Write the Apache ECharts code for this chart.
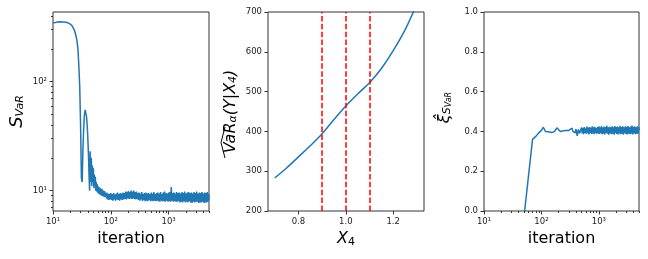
<!DOCTYPE html>
<html><head><meta charset="utf-8">
<script src="https://cdn.jsdelivr.net/npm/echarts@6/dist/echarts.min.js"></script>
<style>html,body{margin:0;padding:0;background:#fff}#c{width:648px;height:259px}</style>
</head><body><div id="c"></div>
<script>
// ---------- data ----------
const iterHead = [10,11,12,13,14,15,16,17,18,19,20,21,22,23,24,25,26,27,28,29,30,31,32,33,34,35,36,37,38,39,40,41,42,43,44,45,46,47,48,49,50,51,52,53,54,55,56,57,58,59,60,61,62,63,64,65,66,67,68,69,70,72,74,76,78,80,82,84];
const svarHead = [346,348,352,354,354,353,352,350,346,342,338,330,318,303,285,262,236,200,140,90,40,13,12,25,38,50,55,54,48,40,31,22,14,10,23,12,20,11,17,12,16,10.5,14,11,13.4,10,12,9.8,11.5,9.6,11,9.4,10.8,9.3,10.6,9.2,10.5,9.1,10.2,9.0,10.4,8.9,10.0,8.8,9.9,8.7,9.6,8.6];
const iterBand = [85,87,90,92,95,97,100,
  103,106,109,112,115,118,121,124,127,131,134,138,142,146,150,
  154,158,162,167,171,176,181,186,191,196,201,207,212,218,224,230,236,243,249,256,263,270,278,285,293,
  301,309,317,326,335,344,353,363,373,383,393,404,415,426,437,449,461,474,487,500,513,527,542,556,571,587,
  603,619,636,653,671,689,707,726,746,766,787,808,830,852,875,899,923,948,974,1000,
  1027,1055,1083,1112,1142,1173,1205,1237,1271,1305,1340,1376,1413,1452,1491,1531,1572,1615,
  1658,1703,1749,1796,1845,1894,1946,1998,2052,2108,2164,2223,2283,2344,2408,2473,2539,2608,2678,2750,2825,2901,2979,3060,3142,3227,3314,3404,3495,3590,3687,3786,3888,3993,4101,4212,4325,4442,4562,4685,4811,4941,5000];
const svarBand = [9.6,8.3,9.4,8.2,9.3,8.3,9.5,
  8.2,9.3,8.1,9.5,8.3,9.2,8.1,9.4,8.3,9.6,8.2,9.3,8.1,9.5,8.3,
  9.4,8.2,9.6,8.3,9.5,8.4,9.8,8.3,9.7,8.5,9.9,8.4,9.7,8.5,10.0,8.4,9.8,8.5,10.0,8.4,9.7,8.3,9.8,8.4,9.5,
  8.2,9.6,8.1,9.4,8.3,9.7,8.0,9.3,8.2,9.5,8.0,9.6,8.1,9.4,8.0,9.5,8.2,9.3,8.0,9.6,8.1,9.4,8.0,9.7,8.1,9.3,
  8.0,9.5,8.1,9.6,8.0,9.4,7.9,9.7,8.1,9.3,8.0,9.6,8.0,9.8,7.9,9.5,8.1,9.4,7.9,9.6,
  8.0,9.7,7.9,10.8,8.1,9.5,7.9,9.6,8.0,9.4,7.9,9.7,7.9,9.5,8.0,9.6,7.8,9.4,
  7.9,9.7,7.8,9.5,8.0,9.8,7.8,9.4,7.9,9.6,7.8,9.7,8.0,9.5,7.8,9.6,7.7,9.4,7.9,9.7,7.8,9.5,7.9,9.8,7.9,9.4,7.7,9.6,7.8,9.5,7.8,9.7,7.9,9.4,7.7,9.6,7.8,9.5,7.8,9.7,7.9,9.3,8.2];

const x4Vals = [0.70,0.75,0.80,0.85,0.90,0.95,1.00,1.05,1.10,1.15,1.20,1.25,1.30];
const varVals = [283,308,336,364,394,430,464,494,522,558,603,655,720];
const refLinesX4 = [0.9,1.0,1.1];

const xiIter = [51,70,80,88,95,100,108,118,130,152,170,186,200,213,235,260,280,300,320,340,355,370,385,400,420,440,460,
  487,500,513,527,542,556,571,587,603,619,636,653,671,689,707,726,746,766,787,808,830,852,875,899,923,948,974,1000,
  1027,1055,1083,1112,1142,1173,1205,1237,1271,1305,1340,1376,1413,1452,1491,1531,1572,1615,
  1658,1703,1749,1796,1845,1894,1946,1998,2052,2108,2164,2223,2283,2344,2408,2473,2539,2608,2678,2750,2825,2901,2979,3060,3142,3227,3314,3404,3495,3590,3687,3786,3888,3993,4101,4212,4325,4442,4562,4685,4811,4941,5000];
const xiVals = [0.0,0.36,0.375,0.39,0.40,0.405,0.421,0.399,0.398,0.394,0.40,0.418,0.41,0.399,0.402,0.404,0.398,0.405,0.395,0.416,0.40,0.41,0.392,0.412,0.377,0.41,0.39,
  0.393,0.42,0.39,0.417,0.386,0.422,0.393,0.415,0.388,0.424,0.391,0.419,0.385,0.422,0.392,0.418,0.387,0.425,0.39,0.42,0.386,0.423,0.393,0.417,0.388,0.422,0.39,0.426,
  0.387,0.421,0.391,0.427,0.386,0.419,0.389,0.424,0.385,0.422,0.392,0.428,0.388,0.42,0.384,0.423,0.39,0.421,
  0.386,0.425,0.389,0.42,0.384,0.427,0.391,0.422,0.387,0.424,0.385,0.421,0.39,0.428,0.386,0.422,0.388,0.425,0.384,0.42,0.391,0.426,0.387,0.423,0.385,0.427,0.389,0.421,0.386,0.424,0.388,0.429,0.385,0.422,0.39,0.425,0.386,0.421,0.389,0.426,0.387,0.422,0.405];

const logDecades = [1,2,3];
const logTickLabels = ['10¹','10²','10³'];
const iterMinor = [20,30,40,50,60,70,80,90,200,300,400,500,600,700,800,900,2000,3000,4000,5000];
const svarMajor = [10,100];
const svarMajorLabels = ['10¹','10²'];
const svarMinor = [7,8,9,20,30,40,50,60,70,80,90,200,300,400];
const x4Ticks = [0.8,1.0,1.2];

// ---------- chart ----------
const FONT = 'DejaVu Sans';
const BLUE = '#1f77b4';
const L = Math.log10;
const svarAll = svarHead.concat(svarBand);
const svarData = iterHead.concat(iterBand).map((it,i)=>[L(it), L(svarAll[i])]);
const xiData = xiIter.map((it,i)=>[L(it), xiVals[i]]);
const varData = x4Vals.map((x,i)=>[x, varVals[i]]);

const tickLbl = {fontFamily: FONT, fontSize: 8.5, color: '#222'};
const grids = [
  {left: 53, top: 12, width: 156, height: 199},
  {left: 268, top: 12, width: 156, height: 199},
  {left: 484, top: 12, width: 155, height: 199}
].map(g => Object.assign(g, {show: true, borderColor: '#333', borderWidth: 1, containLabel: false}));

function majorAxis(grid, min, max, ticks, fmt, extra) {
  return Object.assign({
    type: 'value', gridIndex: grid, min: min, max: max,
    axisLine: {show: false},
    splitLine: {show: false},
    axisTick: {show: true, length: 3.5, lineStyle: {color: '#333', width: 1}, customValues: ticks},
    axisLabel: Object.assign({show: true, margin: 6, customValues: ticks, formatter: fmt}, tickLbl)
  }, extra || {});
}
function minorAxis(grid, min, max, ticks, pos) {
  return {
    type: 'value', gridIndex: grid, min: min, max: max, position: pos,
    axisLine: {show: false}, splitLine: {show: false},
    axisTick: {show: true, length: 2, lineStyle: {color: '#333', width: 1}, customValues: ticks},
    axisLabel: {show: false}
  };
}
const logFmt = v => logTickLabels[logDecades.indexOf(Math.round(v))] || '';
const xMin = L(10), xMax = L(5000);
const nameStyle = {fontFamily: FONT, fontSize: 16, color: '#000'};

const option = {
  animation: false,
  grid: grids,
  xAxis: [
    majorAxis(0, xMin, xMax, logDecades, logFmt, {name: 'iteration', nameLocation: 'middle', nameGap: 20, nameTextStyle: nameStyle}),
    minorAxis(0, xMin, xMax, iterMinor.map(L), 'bottom'),
    majorAxis(1, 0.6715, 1.33, x4Ticks, v => v.toFixed(1), {name: '{x|X}{s|4}', nameLocation: 'middle', nameGap: 17,
      nameTextStyle: Object.assign({}, nameStyle, {rich: {
        x: {fontFamily: FONT, fontSize: 16, fontStyle: 'italic', color: '#000'},
        s: {fontFamily: FONT, fontSize: 11, color: '#000', verticalAlign: 'bottom', padding: [6,0,0,0]}
      }})}),
    majorAxis(2, xMin, xMax, logDecades, logFmt, {name: 'iteration', nameLocation: 'middle', nameGap: 20, nameTextStyle: nameStyle}),
    minorAxis(2, xMin, xMax, iterMinor.map(L), 'bottom')
  ],
  yAxis: [
    majorAxis(0, L(6.5), L(435), svarMajor.map(L), v => svarMajorLabels[svarMajor.map(L).findIndex(t => Math.abs(t - v) < 1e-6)] || '',
      {name: '{S|S}{s|VaR}', nameLocation: 'middle', nameRotate: 90, nameGap: 27,
       nameTextStyle: Object.assign({}, nameStyle, {rich: {
         S: {fontFamily: FONT, fontSize: 18, fontStyle: 'italic', color: '#000'},
         s: {fontFamily: FONT, fontSize: 11, fontStyle: 'italic', color: '#000', verticalAlign: 'bottom', padding: [5,0,0,0]}
       }})}),
    minorAxis(0, L(6.5), L(435), svarMinor.map(L), 'left'),
    majorAxis(1, 200, 700, [200,300,400,500,600,700], v => String(Math.round(v)),
      {name: '{m|VaR}{s|α}{n|(Y|X}{s|4}{n|)}', nameLocation: 'middle', nameRotate: 90, nameGap: 29,
       nameTextStyle: Object.assign({}, nameStyle, {rich: {
         m: {fontFamily: FONT, fontSize: 16, fontStyle: 'italic', color: '#000'},
         n: {fontFamily: FONT, fontSize: 16, fontStyle: 'italic', color: '#000'},
         s: {fontFamily: FONT, fontSize: 11, fontStyle: 'italic', color: '#000', verticalAlign: 'bottom', padding: [5,0,0,0]}
       }})}),
    majorAxis(2, 0, 1, [0,0.2,0.4,0.6,0.8,1.0], v => v.toFixed(1),
      {name: '{m|ξ\u0302}{s|S}{t|VaR}', nameLocation: 'middle', nameRotate: 90, nameGap: 31,
       nameTextStyle: Object.assign({}, nameStyle, {padding: [0,0,0,8], rich: {
         m: {fontFamily: FONT, fontSize: 16, fontStyle: 'italic', color: '#000'},
         s: {fontFamily: FONT, fontSize: 11, fontStyle: 'italic', color: '#000', verticalAlign: 'bottom', padding: [5,0,0,0]},
         t: {fontFamily: FONT, fontSize: 8, fontStyle: 'italic', color: '#000', verticalAlign: 'bottom', padding: [9,0,0,0]}
       }})})
  ],
  series: [
    {type: 'line', xAxisIndex: 0, yAxisIndex: 0, data: svarData, showSymbol: false, symbol: 'none',
     lineStyle: {color: BLUE, width: 1.5}, clip: true},
    {type: 'line', xAxisIndex: 2, yAxisIndex: 2, data: varData, showSymbol: false, symbol: 'none', smooth: 0.3,
     lineStyle: {color: BLUE, width: 1.5}, clip: true,
     markLine: {silent: true, symbol: ['none','none'], label: {show: false},
       lineStyle: {color: '#ff0000', width: 1.5, type: [5.5, 2.4]},
       data: refLinesX4.map(v => ({xAxis: v}))}},
    {type: 'line', xAxisIndex: 3, yAxisIndex: 3, data: xiData, showSymbol: false, symbol: 'none',
     lineStyle: {color: BLUE, width: 1.5}, clip: true}
  ],
  graphic: [
    {type: 'polyline', shape: {points: [[225,158],[221,142.5],[225,127]]}, style: {stroke: '#000', lineWidth: 1, fill: null}}
  ]
};
const chart = echarts.init(document.getElementById('c'), null, {renderer: 'canvas'});
chart.setOption(option);
</script></body></html>
